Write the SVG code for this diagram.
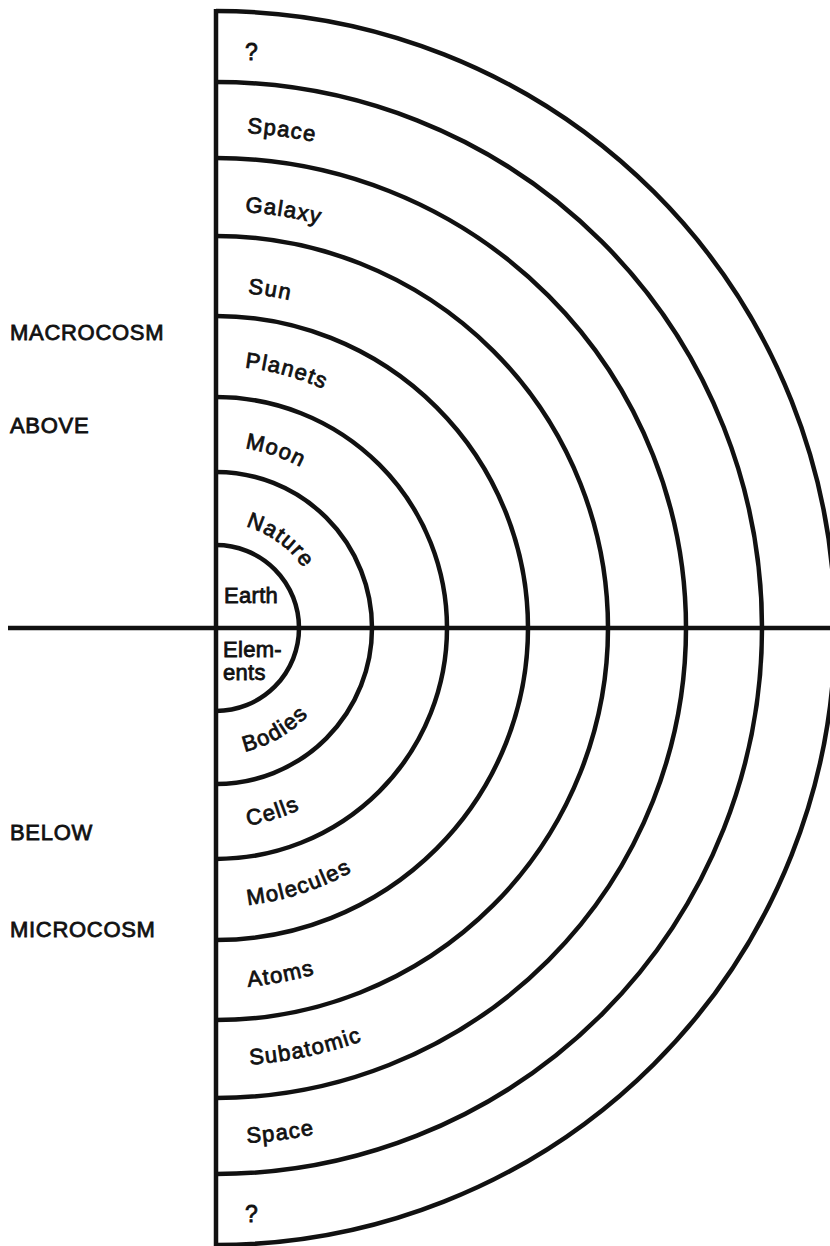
<svg xmlns="http://www.w3.org/2000/svg" xmlns:xlink="http://www.w3.org/1999/xlink" width="830" height="1246" viewBox="0 0 830 1246">
<style>
.ln{fill:none;stroke:#111;stroke-width:4.5;stroke-linecap:butt}
.t{font-family:"Liberation Sans",Arial,sans-serif;font-size:22px;fill:#111;stroke:#111;stroke-width:0.8;letter-spacing:1.3px}
.side{font-family:"Liberation Sans",Arial,sans-serif;font-size:22px;fill:#111;stroke:#111;stroke-width:0.8;letter-spacing:0.7px}
</style>
<defs>
<path id="pSpaceT" d="M216 132 A496 496 0 0 1 712 628"/>
<path id="pGalaxy" d="M216 211 A417 417 0 0 1 633 628"/>
<path id="pSun" d="M216 292 A336 336 0 0 1 552 628"/>
<path id="pPlanets" d="M216 366 A262 262 0 0 1 478 628"/>
<path id="pMoon" d="M216 446 A182 182 0 0 1 398 628"/>
<path id="pNature" d="M216 522 A106 106 0 0 1 322 628"/>
<path id="pBodies" d="M216 755 A127 127 0 0 0 343 628"/>
<path id="pCells" d="M216 828 A200 200 0 0 0 416 628"/>
<path id="pMolecules" d="M216 907 A279 279 0 0 0 495 628"/>
<path id="pAtoms" d="M216 988 A360 360 0 0 0 576 628"/>
<path id="pSubatomic" d="M216 1066 A438 438 0 0 0 654 628"/>
<path id="pSpaceB" d="M216 1144 A516 516 0 0 0 732 628"/>
</defs>
<rect width="830" height="1246" fill="#fff"/>
<g id="rings">
<path class="ln" d="M216 545 A83 83 0 0 1 216 711"/>
<path class="ln" d="M216 472 A156 156 0 0 1 216 784"/>
<path class="ln" d="M216 397 A231 231 0 0 1 216 859"/>
<path class="ln" d="M216 316 A312 312 0 0 1 216 940"/>
<path class="ln" d="M216 236 A392 392 0 0 1 216 1020"/>
<path class="ln" d="M216 158 A470 470 0 0 1 216 1098"/>
<path class="ln" d="M216 82 A546 546 0 0 1 216 1174"/>
<path class="ln" d="M216 11 A619 617 0 0 1 216 1245"/>
</g>
<g id="axes">
<line class="ln" x1="8" y1="628" x2="830" y2="628"/>
<line class="ln" x1="216" y1="9" x2="216" y2="1246"/>
</g>
<g id="above-labels">
<text class="t" x="245" y="60" style="font-size:23px">?</text>
<text class="t"><textPath xlink:href="#pSpaceT" href="#pSpaceT" startOffset="31">Space</textPath></text>
<text class="t"><textPath xlink:href="#pGalaxy" href="#pGalaxy" startOffset="29">Galaxy</textPath></text>
<text class="t"><textPath xlink:href="#pSun" href="#pSun" startOffset="32">Sun</textPath></text>
<text class="t"><textPath xlink:href="#pPlanets" href="#pPlanets" startOffset="29">Planets</textPath></text>
<text class="t"><textPath xlink:href="#pMoon" href="#pMoon" startOffset="29">Moon</textPath></text>
<text class="t"><textPath xlink:href="#pNature" href="#pNature" startOffset="30">Nature</textPath></text>
<text class="t" x="224" y="603" style="letter-spacing:0.3px">Earth</text>
</g>
<g id="below-labels">
<text class="t" x="223" y="657" style="letter-spacing:0.3px">Elem-</text>
<text class="t" x="223" y="680" style="letter-spacing:0.3px">ents</text>
<text class="t"><textPath xlink:href="#pBodies" href="#pBodies" startOffset="29">Bodies</textPath></text>
<text class="t"><textPath xlink:href="#pCells" href="#pCells" startOffset="32">Cells</textPath></text>
<text class="t"><textPath xlink:href="#pMolecules" href="#pMolecules" startOffset="32">Molecules</textPath></text>
<text class="t"><textPath xlink:href="#pAtoms" href="#pAtoms" startOffset="32">Atoms</textPath></text>
<text class="t"><textPath xlink:href="#pSubatomic" href="#pSubatomic" startOffset="34">Subatomic</textPath></text>
<text class="t"><textPath xlink:href="#pSpaceB" href="#pSpaceB" startOffset="31">Space</textPath></text>
<text class="t" x="245" y="1222" style="font-size:23px">?</text>
</g>
<g id="side-labels">
<text class="side" x="10" y="340">MACROCOSM</text>
<text class="side" x="10" y="433">ABOVE</text>
<text class="side" x="10" y="840">BELOW</text>
<text class="side" x="10" y="937">MICROCOSM</text>
</g>
</svg>
